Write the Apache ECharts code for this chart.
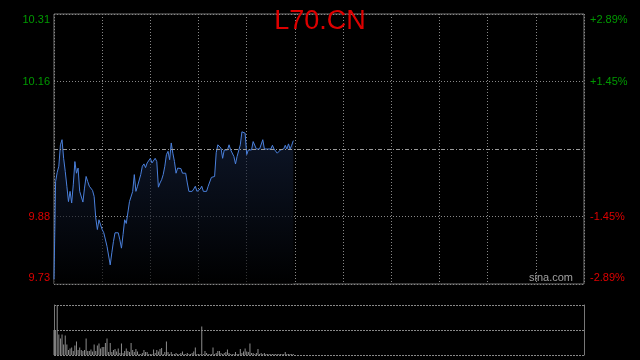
<!DOCTYPE html>
<html>
<head>
<meta charset="utf-8">
<script src="https://cdn.jsdelivr.net/npm/echarts@6/dist/echarts.min.js"></script>
<style>
html,body{margin:0;padding:0;background:#000;}
#c{width:640px;height:360px;}
</style>
</head>
<body>
<div id="c"></div>
<script>
var title = 'L70.CN';
var prevClose = 10.02;
var priceMin = 9.73;
var priceMax = 10.31;
var leftTickLabels = ['9.73', '9.88', '', '10.16', '10.31'];
var rightTickLabels = ['-2.89%', '-1.45%', '', '+1.45%', '+2.89%'];
var totalMinutes = 331;
var minutes = Array.from({length: totalMinutes}, function (_, i) { return String(i); });

var prices = [
  9.740, 9.950, 9.970, 9.983, 10.029, 10.040, 10.000, 9.972, 9.940, 9.907,
  9.929, 9.904, 9.943, 9.993, 9.968, 9.979, 9.929, 9.929, 9.906, 9.936,
  9.961, 9.950, 9.940, 9.940, 9.931, 9.918, 9.872, 9.847, 9.868, 9.857,
  9.847, 9.840, 9.837, 9.811, 9.807, 9.771, 9.797, 9.821, 9.840, 9.840,
  9.840, 9.825, 9.807, 9.836, 9.868, 9.860, 9.860, 9.907, 9.907, 9.929,
  9.965, 9.929, 9.940, 9.940, 9.965, 9.983, 9.988, 9.980, 9.990, 9.990,
  10.000, 9.990, 9.990, 10.000, 9.993, 9.938, 9.947, 9.954, 9.965, 9.983,
  10.008, 10.015, 9.997, 10.033, 10.011, 9.993, 9.968, 9.979, 9.979, 9.978,
  9.968, 9.968, 9.968, 9.947, 9.929, 9.929, 9.929, 9.934, 9.940, 9.929,
  9.929, 9.934, 9.940, 9.929, 9.929, 9.929, 9.940, 9.940, 9.959, 9.959,
  9.961, 10.012, 10.029, 10.028, 10.022, 10.000, 10.018, 10.022, 10.018, 10.029,
  10.018, 10.015, 10.004, 9.988, 10.004, 10.008, 10.029, 10.057, 10.059, 10.054,
  10.008, 10.018, 10.020, 10.018, 10.036, 10.038, 10.020, 10.020, 10.020, 10.020,
  10.040, 10.020, 10.020, 10.020, 10.020, 10.020, 10.028, 10.020, 10.018, 10.011,
  10.011, 10.018, 10.020, 10.020, 10.028, 10.020, 10.031, 10.020, 10.028, 10.038
];

var volumes = [
  50, 48, 100, 41, 33, 41, 21, 39, 21, 10, 13, 15, 8, 19, 27, 10, 15, 10, 8, 10,
  33, 8, 8, 11, 7, 21, 8, 19, 23, 13, 16, 16, 24, 33, 6, 24, 6, 10, 12, 7,
  13, 4, 23, 4, 8, 13, 8, 6, 24, 10, 6, 12, 7, 2, 2, 4, 10, 6, 6, 2,
  2, 2, 11, 4, 10, 7, 12, 14, 2, 6, 27, 6, 2, 6, 2, 2, 4,
  2, 2, 4, 7, 2, 2, 4, 2, 2, 4, 7, 15, 2, 2, 2, 57, 2, 8, 4, 2,
  2, 2, 15, 2, 4, 8, 8, 4, 2, 4, 6, 11, 4, 2, 2, 2, 6, 2, 2, 12,
  4, 7, 13, 7, 6, 23, 4, 4, 2, 4, 12, 2, 4, 2, 4, 2, 2, 2, 2, 2,
  2, 2, 2, 2, 2, 2, 2, 6, 2, 2, 2, 2, 2
];

var FONT = 'Arial, "Liberation Sans", sans-serif';
var UP = '#009900';
var DOWN = '#dd0000';
var step = (priceMax - priceMin) / 4;

function tickLabel(list) {
  return function (v, i) {
    var t = list[i];
    if (!t) { return ''; }
    if (i === list.length - 1) { return '{top|' + t + '}'; }
    if (i === 0) { return '{bot|' + t + '}'; }
    return t;
  };
}
var richAdj = {
  top: {padding: [12, 0, 0, 0], fontSize: 11, fontFamily: FONT},
  bot: {padding: [0, 0, 12, 0], fontSize: 11, fontFamily: FONT}
};

var chart = echarts.init(document.getElementById('c'), null, {renderer: 'canvas'});
chart.setOption({
  backgroundColor: '#000',
  animation: false,
  title: {
    text: title,
    left: 'center',
    top: 3,
    textStyle: {color: '#dd0000', fontSize: 27, fontWeight: 'normal', fontFamily: FONT}
  },
  graphic: [{
    type: 'text',
    right: 67,
    top: 272,
    z: 10,
    style: {text: 'sina.com', fill: '#a0a0a0', font: '11px ' + FONT}
  }],
  grid: [
    {left: 54, top: 14, width: 530, height: 270, show: true, borderColor: '#777', borderWidth: 1, backgroundColor: 'transparent'},
    {left: 54, top: 305, width: 530, height: 50, show: false}
  ],
  xAxis: [
    {
      type: 'category', gridIndex: 0, data: minutes, boundaryGap: false,
      axisLine: {show: false}, axisTick: {show: false}, axisLabel: {show: false},
      splitLine: {show: true, interval: 29, lineStyle: {color: '#888', type: [1, 2], width: 1}}
    },
    {
      type: 'category', gridIndex: 1, data: minutes, boundaryGap: false,
      axisLine: {show: false}, axisTick: {show: false}, axisLabel: {show: false},
      splitLine: {show: false}
    }
  ],
  yAxis: [
    {
      type: 'value', gridIndex: 0, position: 'left', min: priceMin, max: priceMax, interval: step,
      axisLine: {show: false}, axisTick: {show: false},
      axisLabel: {
        margin: 4, fontSize: 11, fontFamily: FONT,
        formatter: tickLabel(leftTickLabels),
        rich: richAdj,
        color: function (v) { return v > prevClose ? UP : DOWN; }
      },
      splitLine: {show: true, lineStyle: {color: '#888', type: [1, 2], width: 1}}
    },
    {
      type: 'value', gridIndex: 0, position: 'right', min: priceMin, max: priceMax, interval: step,
      axisLine: {show: false}, axisTick: {show: false},
      axisLabel: {
        margin: 6, fontSize: 11, fontFamily: FONT,
        formatter: tickLabel(rightTickLabels),
        rich: richAdj,
        color: function (v) { return v > prevClose ? UP : DOWN; }
      },
      splitLine: {show: false}
    },
    {
      type: 'value', gridIndex: 1, position: 'left', min: 0, max: 100, interval: 50,
      axisLine: {show: true, lineStyle: {color: '#777', width: 1}}, axisTick: {show: false}, axisLabel: {show: false},
      splitLine: {show: true, lineStyle: {color: '#888', type: [2, 1], width: 1}}
    },
    {
      type: 'value', gridIndex: 1, position: 'right', min: 0, max: 100, interval: 50,
      axisLine: {show: true, lineStyle: {color: '#777', width: 1}}, axisTick: {show: false}, axisLabel: {show: false},
      splitLine: {show: false}
    }
  ],
  series: [
    {
      type: 'line', xAxisIndex: 0, yAxisIndex: 0, data: prices,
      showSymbol: false, symbol: 'none',
      lineStyle: {color: '#4a80dc', width: 1},
      areaStyle: {
        color: new echarts.graphic.LinearGradient(0, 0, 0, 1, [
          {offset: 0, color: 'rgba(22,36,66,0.85)'},
          {offset: 1, color: 'rgba(0,0,0,0.9)'}
        ])
      },
      markLine: {
        silent: true, symbol: 'none', label: {show: false},
        lineStyle: {color: '#9a9a9a', type: [4, 2, 1, 2], width: 1},
        data: [{yAxis: prevClose}]
      },
      z: 3
    },
    {
      type: 'bar', xAxisIndex: 1, yAxisIndex: 2, data: volumes,
      barWidth: 1, itemStyle: {color: '#8c8c8c'}
    }
  ]
});
</script>
</body>
</html>
